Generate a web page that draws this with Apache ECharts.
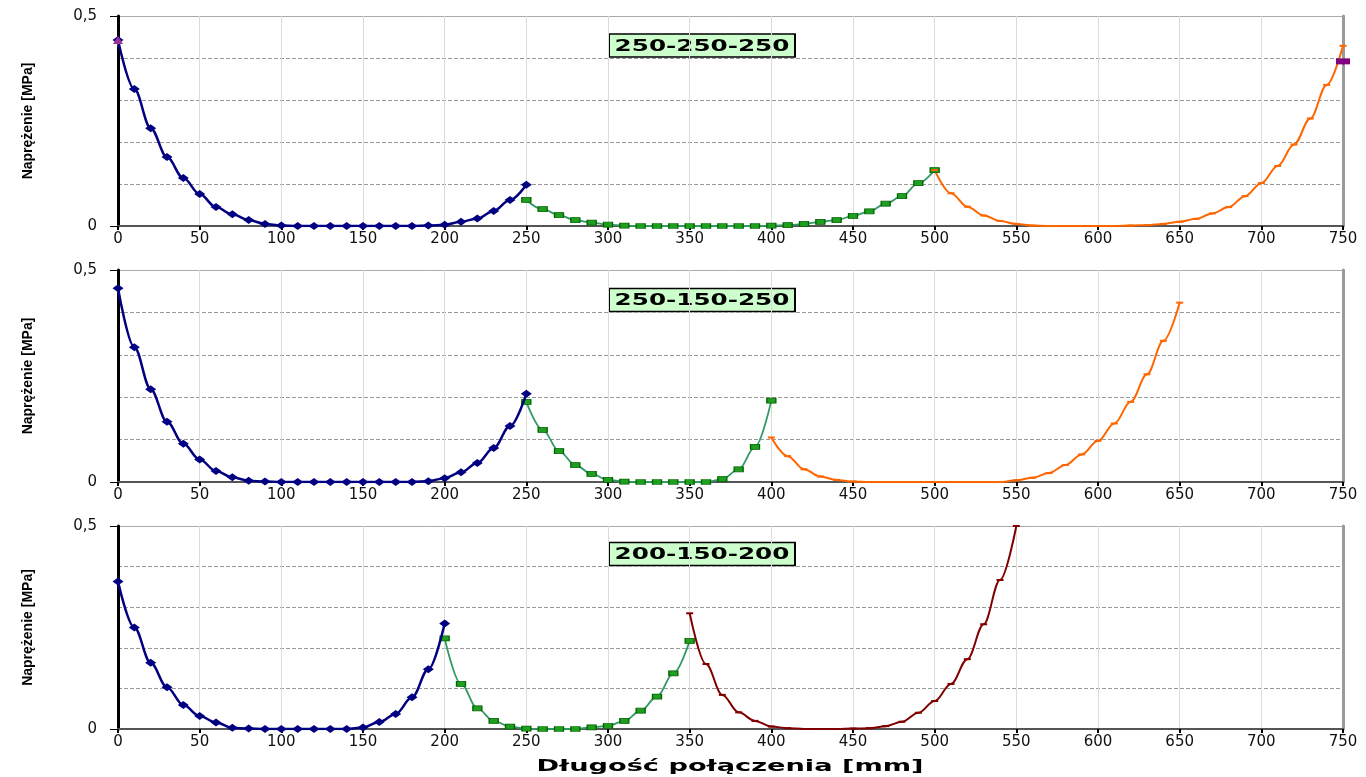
<!DOCTYPE html>
<html><head><meta charset="utf-8">
<script src="https://cdn.jsdelivr.net/npm/echarts@6/dist/echarts.min.js"></script>
<style>html,body{margin:0;padding:0;background:#fff}#c{width:1366px;height:777px}</style>
</head><body><div id="c"></div>
<script>
// ---------- data ----------
const xMin = 0, xMax = 750, xStep = 50;          // x axis ticks 0..750 every 50 mm
const yMin = 0, yMax = 0.5;                      // y tick labels "0" and "0,5"
const pointStep = 10;                            // measurement spacing [mm]
const panelTitles = ['250-250-250', '250-150-250', '200-150-200'];
const yName = 'Naprężenie [MPa]';
const xName = 'Długość połączenia [mm]';

// panel 1: 250-250-250
const p1NavyStart = 0;
const p1Navy = [0.443,0.326,0.233,0.164,0.114,0.076,0.045,0.028,0.014,0.005,0.001,0,0,0,0,0,0,0,0,0.001,0.003,0.010,0.018,0.036,0.062,0.098];
const p1GreenStart = 250;
const p1Green = [0.062,0.040,0.026,0.014,0.008,0.003,0.001,0,0,0,0,0,0,0,0,0.001,0.002,0.005,0.010,0.014,0.024,0.035,0.053,0.071,0.102,0.133];
const p1OrangeStart = 500;
const p1Orange = [0.133,0.078,0.046,0.025,0.012,0.005,0.001,0,0,0,0,0,0.001,0.002,0.005,0.010,0.017,0.030,0.045,0.071,0.102,0.143,0.194,0.256,0.336,0.429];
const p1PurpleLeftX = [-2.9, 0];
const p1PurpleLeft = [0.403, 0.443];
const p1PurpleRightX = [750, 754.3];
const p1PurpleRight = [0.392, 0.357];

// panel 2: 250-150-250
const p2NavyStart = 0;
const p2Navy = [0.457,0.318,0.219,0.142,0.090,0.053,0.026,0.011,0.003,0.001,0,0,0,0,0,0,0,0,0,0.002,0.009,0.023,0.045,0.080,0.132,0.208];
const p2GreenStart = 250;
const p2Green = [0.189,0.123,0.073,0.040,0.019,0.005,0.001,0,0,0,0,0,0.007,0.030,0.083,0.192];
const p2OrangeStart = 400;
const p2Orange = [0.105,0.061,0.030,0.013,0.005,0.001,0,0,0,0,0,0,0,0,0,0.004,0.010,0.021,0.040,0.065,0.097,0.138,0.189,0.254,0.333,0.423];

// panel 3: 200-150-200
const p3NavyStart = 0;
const p3Navy = [0.363,0.250,0.163,0.103,0.059,0.032,0.016,0.003,0.001,0,0,0,0,0,0,0.004,0.017,0.037,0.078,0.147,0.260];
const p3GreenStart = 200;
const p3Green = [0.223,0.111,0.051,0.020,0.006,0.001,0,0,0,0.004,0.008,0.020,0.045,0.080,0.137,0.217];
const p3RedStart = 350;
const p3Red = [0.285,0.160,0.084,0.041,0.020,0.006,0.002,0,0,0,0.001,0.002,0.007,0.018,0.040,0.069,0.111,0.172,0.258,0.367,0.500];

// ---------- styling / layout ----------
const gridTops = [16, 270, 526];
const gridHeights = [210, 212, 203];
const gridLeft = 118, gridRight = 23;
const NAVY = '#000080', GREEN_LINE = '#339966', GREEN_MARK = '#1f9e1f', ORANGE = '#ff6600', DRED = '#800000', PURPLE = '#800080';

function pairs(start, vals) { return vals.map((v, i) => [start + i * pointStep, v]); }
function zip(xs, ys) { return xs.map((x, i) => [x, ys[i]]); }

const tickFont = 'DejaVu Sans';

const grids = [], xAxes = [], yAxes = [];
for (let i = 0; i < 3; i++) {
  grids.push({ left: gridLeft, right: gridRight, top: gridTops[i], height: gridHeights[i], containLabel: false });
  xAxes.push({
    type: 'value', gridIndex: i, min: xMin, max: xMax, interval: xStep,
    axisLine: { show: true, onZero: false, lineStyle: { color: '#555', width: 2 } },
    axisTick: { show: true, length: 4, lineStyle: { color: '#000', width: 2 } },
    axisLabel: { show: true, margin: 6, color: '#111', fontFamily: tickFont, fontSize: 15, showMaxLabel: true, showMinLabel: true },
    splitLine: { show: true, lineStyle: { color: '#dcdcdc', width: 1 } }
  });
  yAxes.push({
    type: 'value', gridIndex: i, min: yMin, max: yMax, interval: 0.5, position: 'left',
    name: yName, nameLocation: 'middle', nameRotate: 90, nameGap: 83,
    nameTextStyle: { fontFamily: '"Liberation Sans Narrow", "Liberation Sans", sans-serif', fontWeight: 'bold', fontSize: 14, color: '#000' },
    axisLine: { show: true, lineStyle: { color: '#000', width: 3 } },
    axisTick: { show: true, length: 8, lineStyle: { color: '#000', width: 1 } },
    axisLabel: { margin: 21, color: '#111', fontFamily: tickFont, fontSize: 15, formatter: v => String(v).replace('.', ',') },
    splitLine: { show: true, lineStyle: { color: '#aaaaaa', width: 1 } },
    minorTick: { show: false, splitNumber: 5 },
    minorSplitLine: { show: true, lineStyle: { color: '#9a9a9a', width: 1, type: [4, 2] } }
  });
  yAxes.push({
    type: 'value', gridIndex: i, min: yMin, max: yMax, position: 'right',
    axisLine: { show: true, lineStyle: { color: '#9a9a9a', width: 3 } },
    axisTick: { show: false }, axisLabel: { show: false }, splitLine: { show: false }
  });
}

function navy(i, data) {
  return { type: 'line', xAxisIndex: i, yAxisIndex: i * 2, data, smooth: 0.35, smoothMonotone: 'x',
    symbol: 'diamond', symbolSize: [11, 8], showAllSymbol: true,
    itemStyle: { color: NAVY }, lineStyle: { color: NAVY, width: 2.5 }, z: 4 };
}
function green(i, data) {
  return { type: 'line', xAxisIndex: i, yAxisIndex: i * 2, data, smooth: 0.35, smoothMonotone: 'x',
    symbol: 'rect', symbolSize: [9, 5], showAllSymbol: true,
    itemStyle: { color: GREEN_MARK, borderColor: '#006400', borderWidth: 1 }, lineStyle: { color: GREEN_LINE, width: 1.8 }, z: 3 };
}
function dash(i, data, color) {
  return { type: 'line', xAxisIndex: i, yAxisIndex: i * 2, data, smooth: 0.35, smoothMonotone: 'x',
    symbol: 'rect', symbolSize: [7, 2], showAllSymbol: true,
    itemStyle: { color }, lineStyle: { color, width: 2 }, z: 3 };
}

const series = [
  navy(0, pairs(p1NavyStart, p1Navy)),
  green(0, pairs(p1GreenStart, p1Green)),
  dash(0, pairs(p1OrangeStart, p1Orange), ORANGE),
  { type: 'line', xAxisIndex: 0, yAxisIndex: 0, data: zip(p1PurpleLeftX, p1PurpleLeft), clip: false,
    symbol: (v) => v[0] === 0 ? 'triangle' : 'none', symbolSize: [10, 8], showAllSymbol: true,
    itemStyle: { color: '#993399' }, lineStyle: { color: '#993399', width: 2 }, z: 5 },
  { type: 'line', xAxisIndex: 0, yAxisIndex: 0, data: zip(p1PurpleRightX, p1PurpleRight), clip: false,
    symbol: (v) => v[0] === 750 ? 'rect' : 'none', symbolSize: [14, 6], showAllSymbol: true,
    itemStyle: { color: PURPLE }, lineStyle: { color: PURPLE, width: 2 }, z: 5 },
  navy(1, pairs(p2NavyStart, p2Navy)),
  green(1, pairs(p2GreenStart, p2Green)),
  dash(1, pairs(p2OrangeStart, p2Orange), ORANGE),
  navy(2, pairs(p3NavyStart, p3Navy)),
  green(2, pairs(p3GreenStart, p3Green)),
  dash(2, pairs(p3RedStart, p3Red), DRED)
];

// boxed panel titles (text stretched horizontally like the reference)
const boxCenters = [45.5, 300, 554];
const boxScale = 1.54, boxW = 186, boxH = 23;
const graphic = panelTitles.map((t, i) => ({
  type: 'group', x: 702, y: boxCenters[i], scaleX: boxScale, z: 10,
  children: [
    { type: 'rect', shape: { x: -boxW / boxScale / 2, y: -boxH / 2, width: boxW / boxScale, height: boxH },
      style: { fill: '#ccffcc', stroke: '#000', lineWidth: 1.3 } },
    { type: 'text', x: 0, y: 1, style: { text: t, font: 'bold 16px "DejaVu Sans"', fill: '#000',
      align: 'center', verticalAlign: 'middle', textAlign: 'center', textVerticalAlign: 'middle' } }
  ]
}));
graphic.push({ type: 'text', x: 730, y: 767, scaleX: 1.7, z: 10,
  style: { text: xName, font: 'bold 16px "DejaVu Sans"', fill: '#000',
    align: 'center', verticalAlign: 'middle', textAlign: 'center', textVerticalAlign: 'middle' } });

const chart = echarts.init(document.getElementById('c'));
chart.setOption({
  animation: false,
  backgroundColor: '#fff',
  grid: grids, xAxis: xAxes, yAxis: yAxes, series, graphic
});
</script></body></html>
